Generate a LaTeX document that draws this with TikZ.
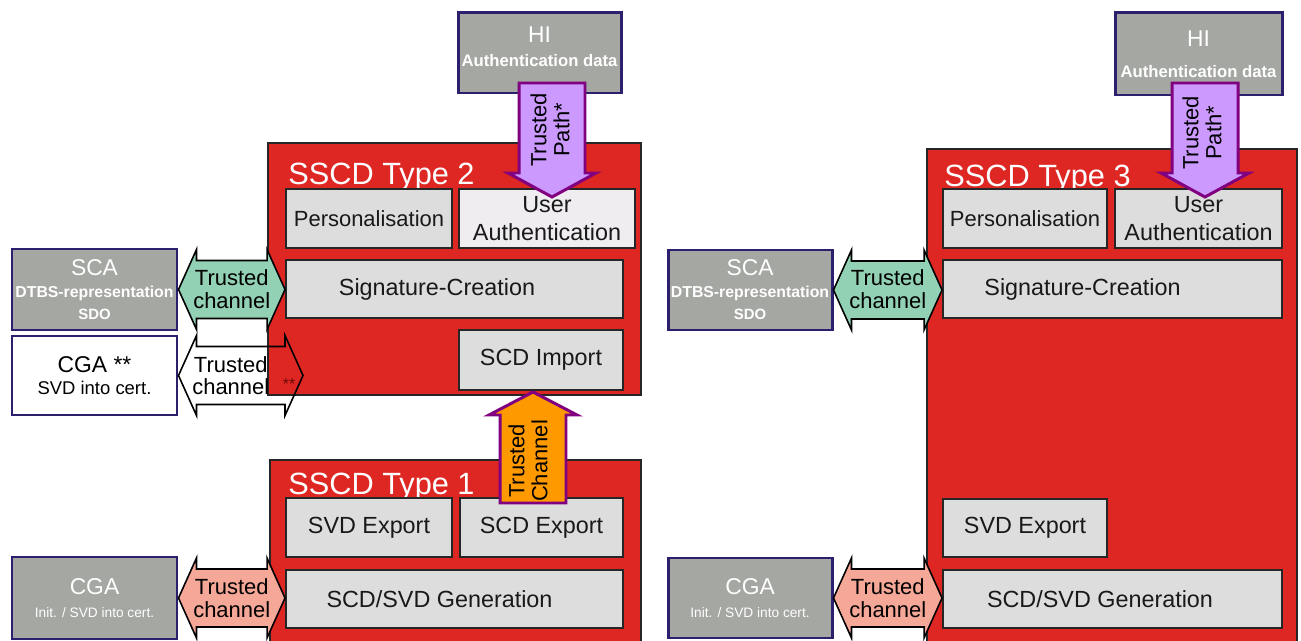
\documentclass[tikz,border=0pt]{standalone}
\usepackage{fontspec}
\setmainfont{Liberation Sans}
\usepackage{xcolor}
\usetikzlibrary{calc}

\definecolor{sscdred}{RGB}{222,38,34}
\definecolor{actgrey}{RGB}{165,167,162}
\definecolor{actnavy}{RGB}{43,31,110}
\definecolor{funcgrey}{RGB}{221,221,221}
\definecolor{uafill}{RGB}{239,237,240}
\definecolor{tcgreen}{RGB}{146,209,179}
\definecolor{tcsalmon}{RGB}{246,168,152}
\definecolor{tplilac}{RGB}{204,153,255}
\definecolor{tppurple}{RGB}{128,0,128}
\definecolor{tcorange}{RGB}{255,153,0}
\definecolor{stardark}{RGB}{110,10,10}

% box size given in pixels of the layout grid
\tikzset{boxsize/.style 2 args={minimum width=#1*0.02cm, minimum height=#2*0.02cm}}

% double headed channel, left point to right point
\newcommand{\channelarrow}[3]{%
  \draw[#1] let \p1=#2, \p2=#3 in
    (\x1,\y1) -- ({\x1+0.36cm},{\y1+0.8cm}) -- ({\x1+0.36cm},{\y1+0.58cm})
    -- ({\x2-0.36cm},{\y1+0.58cm}) -- ({\x2-0.36cm},{\y1+0.8cm}) -- (\x2,\y1)
    -- ({\x2-0.36cm},{\y1-0.8cm}) -- ({\x2-0.36cm},{\y1-0.58cm})
    -- ({\x1+0.36cm},{\y1-0.58cm}) -- ({\x1+0.36cm},{\y1-0.8cm}) -- cycle;}

% vertical block arrow, tail to tip, #4 = head length back from the tip
\newcommand{\blockarrow}[4]{%
  \draw[#1] let \p1=#2, \p2=#3 in
    ({\x1-0.66cm},\y1) -- ({\x1-0.66cm},{\y2+#4}) -- ({\x1-0.88cm},{\y2+#4}) -- (\x1,\y2)
    -- ({\x1+0.88cm},{\y2+#4}) -- ({\x1+0.66cm},{\y2+#4}) -- ({\x1+0.66cm},\y1) -- cycle;}

\begin{document}
\begin{tikzpicture}[x=0.02cm, y=-0.02cm,
    sscd/.style={rectangle, draw=black!85, line width=1.4pt, fill=sscdred, inner sep=0pt},
    title/.style={text=white, font=\fontsize{17.5}{20}\selectfont, anchor=base west, inner sep=0pt},
    func/.style={
        rectangle, draw=black!85, line width=1.1pt, fill=funcgrey, inner sep=0pt,
        text=black!90, align=center, font=\fontsize{13.3}{15.5}\selectfont
    },
    actor/.style={
        rectangle, draw=actnavy, line width=1.7pt, fill=actgrey, inner sep=0pt,
        text=white, align=center, font=\fontsize{9}{12.5}\selectfont
    },
    chan/.style={draw=black, line width=0.9pt},
    tpath/.style={draw=tppurple, line width=1.7pt},
    chantext/.style={align=center, font=\fontsize{12.5}{13}\selectfont, inner sep=0pt}
]
\useasboundingbox (0,0) rectangle (1301,641);
\clip (0,0) rectangle (1301,641);

% SSCD Type 2
\node[sscd, boxsize={373}{252}] (type2) at (454.5,269) {};
\node[title] (type2t) at (288,185) {SSCD Type 2};
\node[func, boxsize={166}{59}, font=\fontsize{12.5}{15}\selectfont] (pers2) at (369,218.5) {Personalisation};
\node[func, boxsize={176}{59}, fill=uafill] (ua2) at (547,218.5) {User\\Authentication};
\node[func, boxsize={337}{58}] (sig2) at (454.5,289) {Signature-Creation\hspace*{0.7cm}};
\node[func, boxsize={164}{60}] (imp2) at (541,360) {SCD Import};

% SSCD Type 1
\node[sscd, boxsize={371}{200}] (type1) at (455.5,560) {};
\node[title] (type1t) at (288,495) {SSCD Type 1};
\node[func, boxsize={166}{59}] (svd1) at (369,527.5) {SVD Export};
\node[func, boxsize={163}{59}] (scd1) at (541.5,527.5) {SCD Export};
\node[func, boxsize={337}{58}] (gen1) at (454.5,599) {SCD/SVD Generation\hspace*{0.6cm}};

% SSCD Type 3
\node[sscd, boxsize={370}{511}] (type3) at (1112,404.5) {};
\node[title] (type3t) at (944,187) {SSCD Type 3};
\node[func, boxsize={164}{59}, font=\fontsize{12.5}{15}\selectfont] (pers3) at (1025,218.5) {Personalisation};
\node[func, boxsize={167}{59}] (ua3) at (1198.5,218.5) {User\\Authentication};
\node[func, boxsize={339}{58}] (sig3) at (1112.5,289) {Signature-Creation\hspace*{1.2cm}};
\node[func, boxsize={164}{58}] (svd3) at (1025,528) {SVD Export};
\node[func, boxsize={339}{58}] (gen3) at (1112.5,599) {SCD/SVD Generation\hspace*{0.5cm}};

% Outside actors, left
\node[actor, boxsize={163}{80}] (hi2) at (539.5,53)
  {{\fontsize{13}{15}\selectfont HI}\\[1pt]{\bfseries\fontsize{9.5}{11}\selectfont Authentication data}\\[-5pt]{}};
\node[actor, boxsize={165}{81}] (sca2) at (94.5,289.5)
  {{\fontsize{13}{15}\selectfont SCA}\\{\bfseries DTBS-representation}\\{\bfseries\fontsize{8.5}{10}\selectfont SDO}};
\node[actor, boxsize={165}{79}, fill=white, text=black] (cga2) at (94.5,375.5)
  {{\fontsize{13}{15}\selectfont CGA **}\\{\fontsize{10.5}{12}\selectfont SVD into cert.}};
\node[actor, boxsize={165}{82}] (cga1) at (94.5,598)
  {{\fontsize{13}{15}\selectfont CGA}\\[1pt]{\fontsize{7.8}{9}\selectfont Init. / SVD into cert.}};

% Outside actors, right
\node[actor, boxsize={167}{82}] (hi3) at (1198.5,54)
  {{\fontsize{13}{15}\selectfont HI}\\[5pt]{\bfseries\fontsize{9.5}{11}\selectfont Authentication data}};
\node[actor, boxsize={164}{80}] (sca3) at (750,290)
  {{\fontsize{13}{15}\selectfont SCA}\\{\bfseries DTBS-representation}\\{\bfseries\fontsize{8.5}{10}\selectfont SDO}};
\node[actor, boxsize={164}{80}] (cga3) at (750,598)
  {{\fontsize{13}{15}\selectfont CGA}\\[1pt]{\fontsize{7.8}{9}\selectfont Init. / SVD into cert.}};

% Free ends of the block arrows
\coordinate (cgatip) at (303,376);
\coordinate (tp2tail) at (552,83);
\coordinate (tp2tip) at (552,197);
\coordinate (tc1tail) at (533,503);
\coordinate (tc1tip) at (533,392);
\coordinate (tp3tail) at (1205,83);
\coordinate (tp3tip) at (1205,197);

% Trusted channels
\channelarrow{chan, fill=tcgreen}{(sca2.east)}{(sig2.west)}
\channelarrow{chan}{(cga2.east)}{(cgatip)}
\channelarrow{chan, fill=tcsalmon}{(cga1.east)}{(gen1.west)}
\channelarrow{chan, fill=tcgreen}{(sca3.east)}{(sig3.west)}
\channelarrow{chan, fill=tcsalmon}{(cga3.east)}{(gen3.west)}

\node[chantext] (tc2) at ($(sca2.east)!0.5!(sig2.west)$) {Trusted\\channel};
\node[chantext] (tcg2) at ($(cga2.east)!0.42!(cgatip)$) {Trusted\\channel};
\node[font=\fontsize{9}{10}\selectfont, text=stardark, inner sep=0pt] (cgastar) at (289,384) {**};
\node[chantext] (tcg1) at ($(cga1.east)!0.5!(gen1.west)$) {Trusted\\channel};
\node[chantext] (tc3) at ($(sca3.east)!0.5!(sig3.west)$) {Trusted\\channel};
\node[chantext] (tcg3) at ($(cga3.east)!0.5!(gen3.west)$) {Trusted\\channel};

% Trusted paths and the import channel
\blockarrow{tpath, fill=tplilac}{(tp2tail)}{(tp2tip)}{0.48cm}
\blockarrow{tpath, fill=tcorange}{(tc1tail)}{(tc1tip)}{(-0.46cm)}
\blockarrow{tpath, fill=tplilac}{(tp3tail)}{(tp3tip)}{0.48cm}

\node[chantext, rotate=90] (tp2) at (550,130) {Trusted\\Path*};
\node[chantext, rotate=90] (tc1) at (528,461) {Trusted\\Channel};
\node[chantext, rotate=90] (tp3) at (1202,133) {Trusted\\Path*};

\end{tikzpicture}
\end{document}
